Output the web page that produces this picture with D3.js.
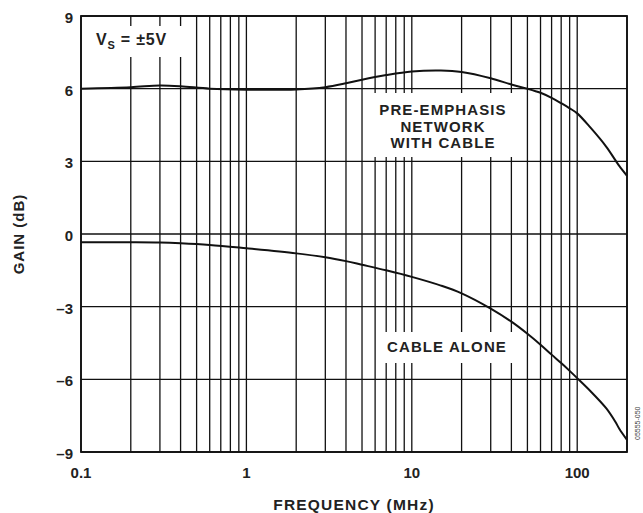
<!DOCTYPE html>
<html>
<head>
<meta charset="utf-8">
<script src="https://cdn.jsdelivr.net/npm/d3@7"></script>
<style>
  body { margin: 0; background: #fff; }
  svg { font-family: "Liberation Sans", Arial, sans-serif; font-weight: bold; }
</style>
</head>
<body>
<script>
// frequency points (MHz)
var freq = [0.1, 0.2, 0.3, 0.4, 0.6, 1, 2, 3, 4, 5, 7, 10, 15, 20, 30, 40, 50, 60, 70, 80, 90, 100, 120, 150, 170, 180, 200];
// gain (dB), pre-emphasis network with cable
var preEmph = [6.0, 6.06, 6.13, 6.1, 6.0, 5.96, 5.97, 6.06, 6.22, 6.37, 6.56, 6.71, 6.75, 6.69, 6.43, 6.17, 6.0, 5.83, 5.62, 5.4, 5.19, 4.98, 4.4, 3.6, 3.05, 2.8, 2.4];
// gain (dB), cable alone
var cable = [-0.34, -0.34, -0.35, -0.38, -0.45, -0.59, -0.8, -0.96, -1.12, -1.27, -1.5, -1.77, -2.13, -2.45, -3.08, -3.62, -4.12, -4.57, -4.98, -5.33, -5.65, -5.95, -6.48, -7.2, -7.75, -8.05, -8.5];

var xLabels = [0.1, 1, 10, 100];
var yTicks = [-9, -6, -3, 0, 3, 6, 9];

var width = 643, height = 513;
// plot box edges (can't call one "top", window.top is read-only)
var plotL = 81, plotR = 627, plotT = 16, plotB = 452;

var svg = d3.select("body").append("svg")
    .attr("width", width)
    .attr("height", height);

var x = d3.scaleLog().domain([0.1, 200]).range([plotL, plotR]);
var y = d3.scaleLinear().domain([-9, 9]).range([plotB, plotT]);

// vertical grid at every 1..9 x decade
svg.append("g").selectAll("line")
    .data(x.ticks())
    .enter().append("line")
    .attr("x1", function(d) { return x(d); })
    .attr("x2", function(d) { return x(d); })
    .attr("y1", plotT).attr("y2", plotB)
    .attr("stroke", "#111").attr("stroke-width", 1.3);

// horizontal grid
svg.append("g").selectAll("line")
    .data(yTicks)
    .enter().append("line")
    .attr("x1", plotL).attr("x2", plotR)
    .attr("y1", function(d) { return y(d); })
    .attr("y2", function(d) { return y(d); })
    .attr("stroke", "#111").attr("stroke-width", 1.3);

// white patches behind the labels
var boxes = [
    [87, 26, 95, 31],
    [370, 93, 146, 64],
    [378, 332, 138, 31]
];
svg.append("g").selectAll("rect")
    .data(boxes)
    .enter().append("rect")
    .attr("x", function(d) { return d[0]; })
    .attr("y", function(d) { return d[1]; })
    .attr("width", function(d) { return d[2]; })
    .attr("height", function(d) { return d[3]; })
    .attr("fill", "#fff");

// frame
svg.append("rect")
    .attr("x", plotL).attr("y", plotT)
    .attr("width", plotR - plotL).attr("height", plotB - plotT)
    .attr("fill", "none").attr("stroke", "#111").attr("stroke-width", 1.8);

var line = d3.line()
    .x(function(d) { return x(d[0]); })
    .y(function(d) { return y(d[1]); })
    .curve(d3.curveCatmullRom.alpha(0.5));

svg.append("path")
    .datum(d3.zip(freq, preEmph))
    .attr("d", line)
    .attr("fill", "none").attr("stroke", "#111").attr("stroke-width", 2);

svg.append("path")
    .datum(d3.zip(freq, cable))
    .attr("d", line)
    .attr("fill", "none").attr("stroke", "#111").attr("stroke-width", 2);

// tick labels
svg.append("g").selectAll("text")
    .data(yTicks)
    .enter().append("text")
    .attr("x", 73)
    .attr("y", function(d) { return y(d) + 7; })
    .attr("text-anchor", "end")
    .attr("font-size", 15)
    .attr("fill", "#222")
    .text(function(d) { return d < 0 ? "\u2013" + (-d) : d; });

svg.append("g").selectAll("text")
    .data(xLabels)
    .enter().append("text")
    .attr("x", function(d) { return x(d); })
    .attr("y", 478)
    .attr("text-anchor", "middle")
    .attr("font-size", 15)
    .attr("fill", "#222")
    .text(function(d) { return d; });

// axis titles
svg.append("text")
    .attr("x", (plotL + plotR) / 2).attr("y", 510)
    .attr("text-anchor", "middle")
    .attr("font-size", 15.5).attr("letter-spacing", 1.2)
    .attr("fill", "#222")
    .text("FREQUENCY (MHz)");

svg.append("text")
    .attr("transform", "translate(24," + ((plotT + plotB) / 2) + ") rotate(-90)")
    .attr("text-anchor", "middle")
    .attr("font-size", 15).attr("letter-spacing", 1)
    .attr("fill", "#222")
    .text("GAIN (dB)");

// annotations
var vs = svg.append("text")
    .attr("x", 96).attr("y", 45)
    .attr("font-size", 16).attr("letter-spacing", 0.8).attr("fill", "#222");
vs.append("tspan").text("V");
vs.append("tspan").attr("font-size", 11).attr("dy", 4).text("S");
vs.append("tspan").attr("dy", -4).text(" = \u00b15V");

var pre = ["PRE-EMPHASIS", "NETWORK", "WITH CABLE"];
svg.append("g").selectAll("text")
    .data(pre)
    .enter().append("text")
    .attr("x", 443)
    .attr("y", function(d, i) { return 115 + i * 16.5; })
    .attr("text-anchor", "middle")
    .attr("font-size", 15).attr("letter-spacing", 1.1)
    .attr("fill", "#222")
    .text(function(d) { return d; });

svg.append("text")
    .attr("x", 447).attr("y", 352)
    .attr("text-anchor", "middle")
    .attr("font-size", 15).attr("letter-spacing", 1.1)
    .attr("fill", "#222")
    .text("CABLE ALONE");

svg.append("text")
    .attr("transform", "translate(640,440) rotate(-90)")
    .attr("font-size", 7).attr("font-weight", "normal")
    .attr("fill", "#444")
    .text("05555-050");
</script>
</body>
</html>
